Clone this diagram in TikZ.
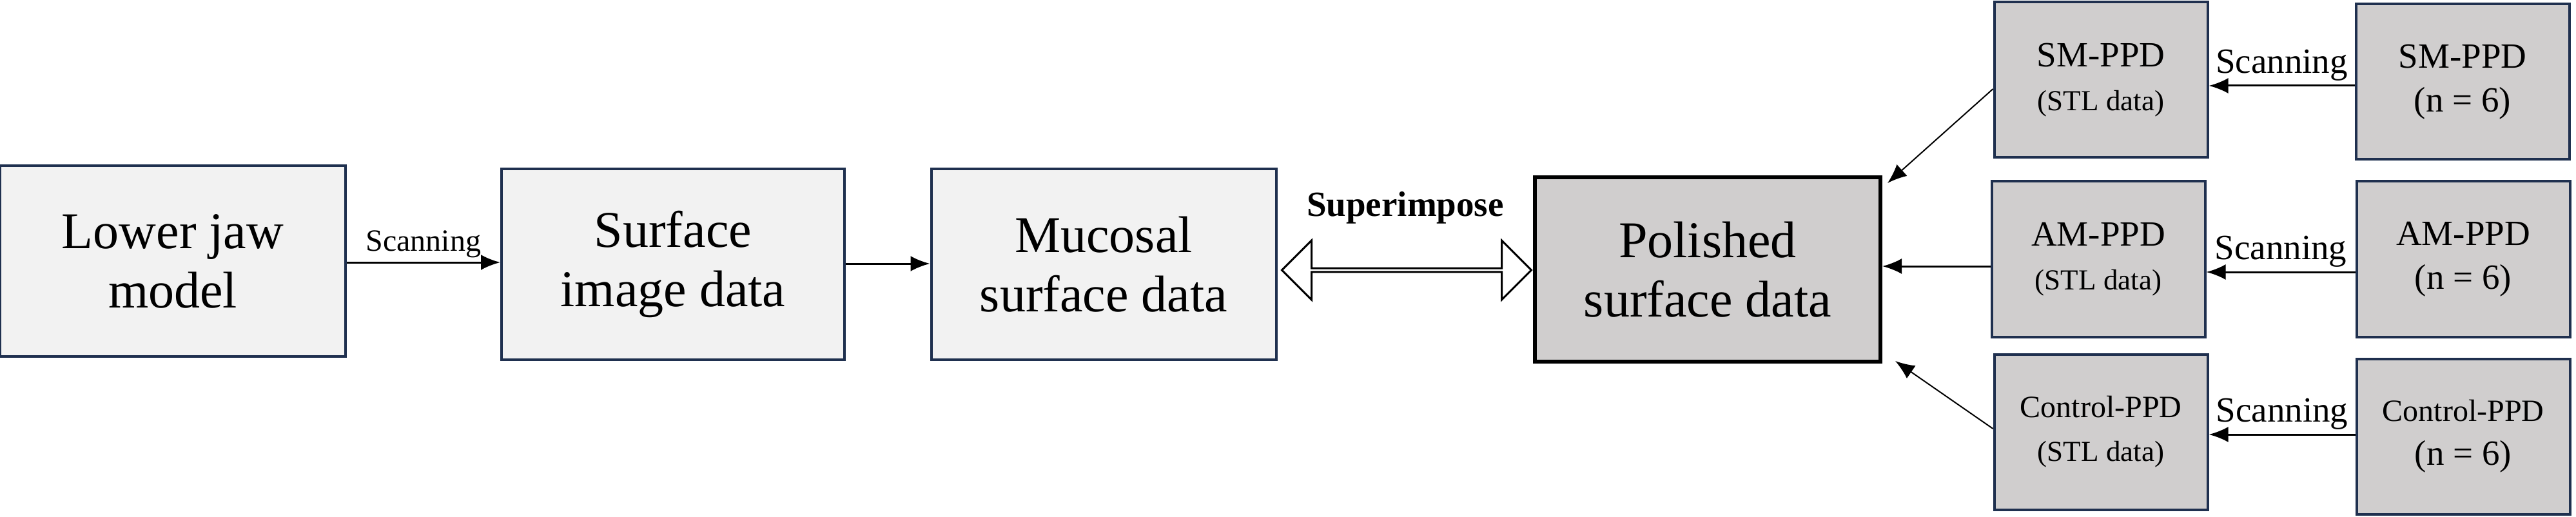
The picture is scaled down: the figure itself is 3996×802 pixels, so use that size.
\documentclass[tikz,border=0pt]{standalone}
\usepackage{fontspec}
\setmainfont{Liberation Serif}
\usetikzlibrary{arrows.meta,shapes.arrows}
\definecolor{navy}{rgb}{0.12,0.19,0.31}
\definecolor{lightbox}{HTML}{F2F2F2}
\definecolor{graybox}{HTML}{D0CECE}
\begin{document}
\begin{tikzpicture}[x=1pt,y=-1pt,
  lbox/.style={draw=navy,line width=4pt,fill=lightbox,align=center,font=\fontsize{80}{92}\selectfont,inner sep=0pt},
  gbox/.style={draw=navy,line width=4pt,fill=graybox,align=center,font=\fontsize{55}{68}\selectfont,inner sep=0pt,minimum width=331pt,minimum height=241pt},
  arr/.style={line width=3pt,-{Latex[length=30pt,width=24pt]}},
  lab/.style={font=\fontsize{55}{60}\selectfont,above,inner sep=6pt}]
\useasboundingbox (0,0) rectangle (3996,802);
\node[lbox,minimum width=536pt,minimum height=295pt] (jaw) at (268,405) {Lower jaw\\model};
\node[lbox,minimum width=532pt,minimum height=295pt] (surf) at (1044,410) {Surface\\image data};
\node[lbox,minimum width=535pt,minimum height=295pt] (muc) at (1712,410) {Mucosal\\surface data};
\node[lbox,draw=black,line width=6pt,fill=graybox,minimum width=536pt,minimum height=286pt] (pol) at (2649,418) {Polished\\surface data};
\node[gbox] (sms) at (3259,124) {SM-PPD\\{\fontsize{45}{60}\selectfont (STL data)}};
\node[gbox] (ams) at (3255,402) {AM-PPD\\{\fontsize{45}{60}\selectfont (STL data)}};
\node[gbox] (cts) at (3259,670) {{\fontsize{48}{60}\selectfont Control-PPD}\\{\fontsize{45}{60}\selectfont (STL data)}};
\node[gbox] (smr) at (3820,127) {SM-PPD\\(n = 6)};
\node[gbox] (amr) at (3821,402) {AM-PPD\\(n = 6)};
\node[gbox] (ctr) at (3821,677) {{\fontsize{48}{60}\selectfont Control-PPD}\\(n = 6)};
\draw[arr] (jaw.east |- 0,407) -- node[lab,font=\fontsize{48}{55}\selectfont]{Scanning} (surf.west |- 0,407);
\draw[arr] (surf.east |- 0,409) -- (muc.west |- 0,409);
\node[double arrow,draw,line width=3pt,fill=white,minimum height=387pt,minimum width=92pt,double arrow head extend=23pt,inner sep=0pt] (sup) at (2182,419) {};
\node[font=\bfseries\fontsize{55}{60}\selectfont] (suplab) at (2180,322) {Superimpose};
\draw[arr] (smr.west |- 0,133) -- node[lab]{Scanning} (sms.east |- 0,133);
\draw[arr] (amr.west |- 0,422) -- node[lab]{Scanning} (ams.east |- 0,422);
\draw[arr] (ctr.west |- 0,674) -- node[lab]{Scanning} (cts.east |- 0,674);
\draw[arr] (ams.west |- 0,413) -- (pol.east |- 0,413);
\draw[arr,line width=2pt] (sms.west |- 0,138) -- ([shift={(8,12)}]pol.north east);
\draw[arr,line width=2pt] (cts.west |- 0,665) -- ([shift={(20,-4)}]pol.south east);
\end{tikzpicture}
\end{document}
